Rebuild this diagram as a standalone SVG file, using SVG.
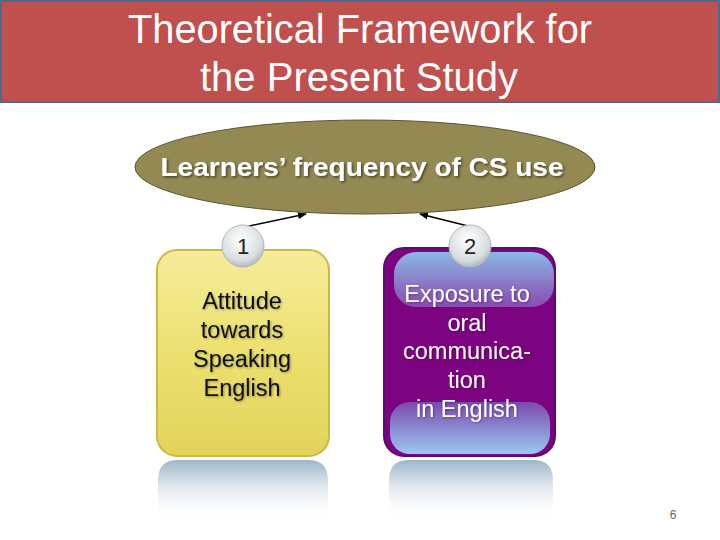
<svg xmlns="http://www.w3.org/2000/svg" width="720" height="540" viewBox="0 0 720 540">
<defs>
<style>
.title{font-family:"Liberation Sans",Arial,sans-serif;font-size:41px;fill:#fff;text-anchor:middle}
.el{font-family:"Liberation Sans",Arial,sans-serif;font-size:26px;font-weight:bold;fill:#fff;text-anchor:middle}
.lbl{font-family:"Liberation Sans",Arial,sans-serif;font-size:23.5px;text-anchor:middle}
.num{font-family:"Liberation Sans",Arial,sans-serif;font-size:22px;fill:#222;text-anchor:middle}
.conn{stroke:#000;stroke-width:1.5;fill:none;marker-end:url(#ah)}
</style>
<marker id="ah" viewBox="0 0 10 10" refX="9" refY="5" markerWidth="6" markerHeight="6" orient="auto"><path d="M0,1 L10,5 L0,9 z" fill="#000"/></marker>
<linearGradient id="yel" x1="0" y1="0" x2="0" y2="1"><stop offset="0" stop-color="#f6ec9a"/><stop offset="0.5" stop-color="#ece070"/><stop offset="1" stop-color="#e2d35a"/></linearGradient>
<linearGradient id="gl" x1="0" y1="0" x2="0" y2="1"><stop offset="0" stop-color="#8ab8e6"/><stop offset="1" stop-color="#8a4ab0"/></linearGradient>
<linearGradient id="gl2" x1="0" y1="0" x2="0" y2="1"><stop offset="0" stop-color="#7a4ab0"/><stop offset="1" stop-color="#9ac8f0"/></linearGradient>
<radialGradient id="ball" cx="0.45" cy="0.35" r="0.7"><stop offset="0" stop-color="#ffffff"/><stop offset="0.7" stop-color="#d8dde0"/><stop offset="1" stop-color="#a8b0b4"/></radialGradient>
<linearGradient id="refY" x1="0" y1="0" x2="0" y2="1"><stop offset="0" stop-color="#9fb6c8"/><stop offset="0.35" stop-color="#d4dee6"/><stop offset="1" stop-color="#ffffff" stop-opacity="0"/></linearGradient>
<filter id="sh" x="-5%" y="-20%" width="110%" height="140%"><feDropShadow dx="1.5" dy="1.5" stdDeviation="1" flood-color="#000" flood-opacity="0.5"/></filter>
<filter id="tsh" x="-5%" y="-20%" width="110%" height="140%"><feDropShadow dx="1" dy="1" stdDeviation="0.8" flood-color="#000" flood-opacity="0.35"/></filter>
</defs>
<rect width="720" height="540" fill="#fff"/>
<g id="title">
<rect x="1" y="1" width="718" height="101" fill="#c0504d" stroke="#4f6a92" stroke-width="2"/>
<text class="title" x="360" y="43" textLength="464" lengthAdjust="spacingAndGlyphs">Theoretical Framework for</text>
<text class="title" x="359" y="91" textLength="318" lengthAdjust="spacingAndGlyphs">the Present Study</text>
</g>
<g id="connectors">
<line class="conn" x1="240" y1="228" x2="306" y2="214"/>
<line class="conn" x1="476" y1="228" x2="420" y2="214"/>
</g>
<g id="ellipse">
<ellipse cx="365" cy="167" rx="230" ry="47" fill="#938953" stroke="#5a5630" stroke-width="1"/>
<text class="el" x="362" y="176" textLength="403" lengthAdjust="spacingAndGlyphs" filter="url(#sh)">Learners’ frequency of CS use</text>
</g>
<g id="box1">
<path d="M158,520 v-40 q0,-20 20,-20 h130 q20,0 20,20 v40 z" fill="url(#refY)"/>
<rect x="157" y="250" width="172" height="206" rx="20" fill="url(#yel)" stroke="#c9b945" stroke-width="2"/>
<circle cx="243" cy="246" r="21" fill="url(#ball)" stroke="#b0b6ba" stroke-width="1"/>
<text class="num" x="243" y="254">1</text>
<g filter="url(#tsh)">
<text class="lbl" x="242" y="309" fill="#111">Attitude</text>
<text class="lbl" x="242" y="338" fill="#111">towards</text>
<text class="lbl" x="242" y="367" fill="#111">Speaking</text>
<text class="lbl" x="242" y="396" fill="#111">English</text>
</g>
</g>
<g id="box2">
<path d="M389,520 v-40 q0,-20 20,-20 h124 q20,0 20,20 v40 z" fill="url(#refY)"/>
<rect x="384" y="248" width="171" height="208" rx="20" fill="#7d0480" stroke="#5a0a70" stroke-width="2"/>
<rect x="394" y="252" width="160" height="55" rx="22" fill="url(#gl)"/>
<rect x="390" y="402" width="160" height="52" rx="20" fill="url(#gl2)"/>
<circle cx="470" cy="246" r="21" fill="url(#ball)" stroke="#b0b6ba" stroke-width="1"/>
<text class="num" x="470" y="254">2</text>
<g filter="url(#tsh)">
<text class="lbl" x="467" y="302" fill="#fff">Exposure to</text>
<text class="lbl" x="467" y="331" fill="#fff">oral</text>
<text class="lbl" x="467" y="359" fill="#fff">communica-</text>
<text class="lbl" x="467" y="388" fill="#fff">tion</text>
<text class="lbl" x="467" y="417" fill="#fff">in English</text>
</g>
</g>
<text x="673" y="519" font-family="Liberation Sans,Arial,sans-serif" font-size="12" fill="#666" text-anchor="middle">6</text>
</svg>
